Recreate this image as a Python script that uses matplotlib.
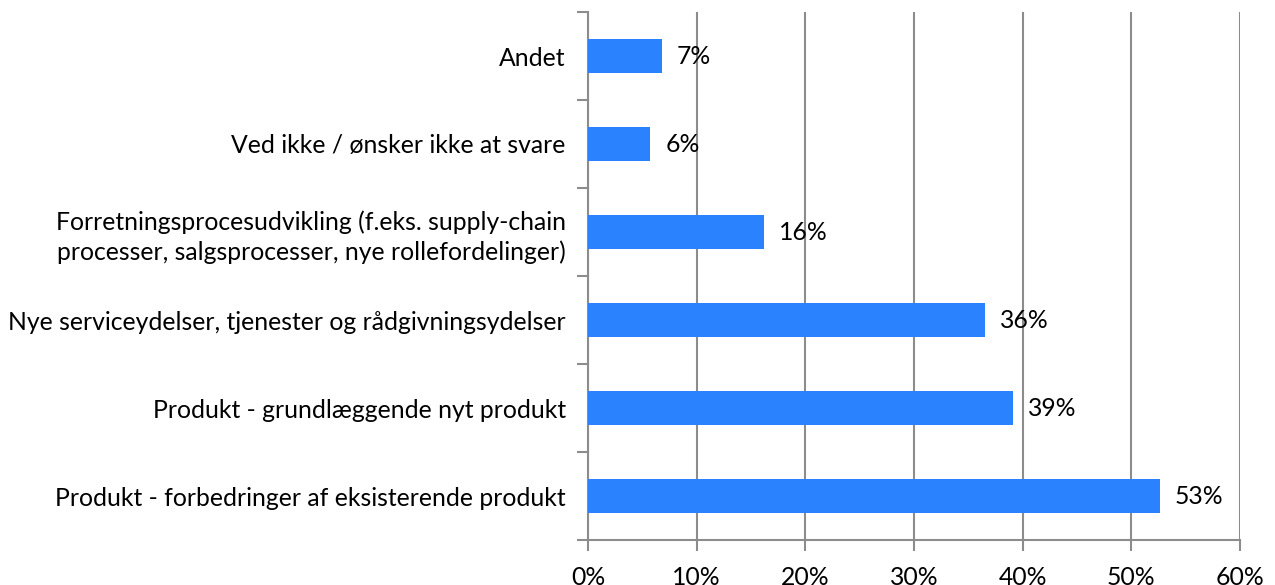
import matplotlib.pyplot as plt
import numpy as np

# categories listed bottom to top
categories = [
    "Produkt - forbedringer af eksisterende produkt",
    "Produkt - grundlæggende nyt produkt",
    "Nye serviceydelser, tjenester og rådgivningsydelser",
    "Forretningsprocesudvikling (f.eks. supply-chain\nprocesser, salgsprocesser, nye rollefordelinger)",
    "Ved ikke / ønsker ikke at svare",
    "Andet",
]
values = [52.6, 39.1, 36.5, 16.2, 5.7, 6.8]
labels = ["53%", "39%", "36%", "16%", "6%", "7%"]
xticks = [0, 10, 20, 30, 40, 50, 60]

plt.rcParams['font.family'] = ['Lato', 'DejaVu Sans']
fs = 17.8

fig = plt.figure(figsize=(12.75, 5.85), dpi=100)
ax = fig.add_axes([588 / 1275, 45 / 585, 652 / 1275, 528 / 585])

y = np.arange(len(categories))
ax.barh(y, values, height=0.39, color='#2A82FF', zorder=3)

for yi, v, lab in zip(y, values, labels):
    ax.text(v + 1.4, yi, lab, va='center', ha='left', fontsize=fs, color='black', zorder=4)

ax.set_xlim(0, 60)
ax.set_ylim(-0.5, len(categories) - 0.5)
ax.set_xticks(xticks)
ax.set_xticklabels([f"{t}%" for t in xticks], fontsize=fs)
ax.set_yticks(y)
ax.set_yticklabels(categories, fontsize=fs, linespacing=1.35)
ax.set_yticks(np.arange(-0.5, len(categories)), minor=True)

ax.xaxis.grid(True, color='#8c8c8c', linewidth=1.5, zorder=0)
for s in ['top', 'right']:
    ax.spines[s].set_visible(False)
for s in ['left', 'bottom']:
    ax.spines[s].set_color('#8c8c8c')
    ax.spines[s].set_linewidth(1.5)

ax.tick_params(axis='y', which='major', length=0, pad=16)
ax.tick_params(axis='y', which='minor', length=8, width=1.5, color='#8c8c8c')
ax.tick_params(axis='x', length=8, width=1.5, color='#8c8c8c', pad=11)

fig.savefig('out.png', dpi=100)
